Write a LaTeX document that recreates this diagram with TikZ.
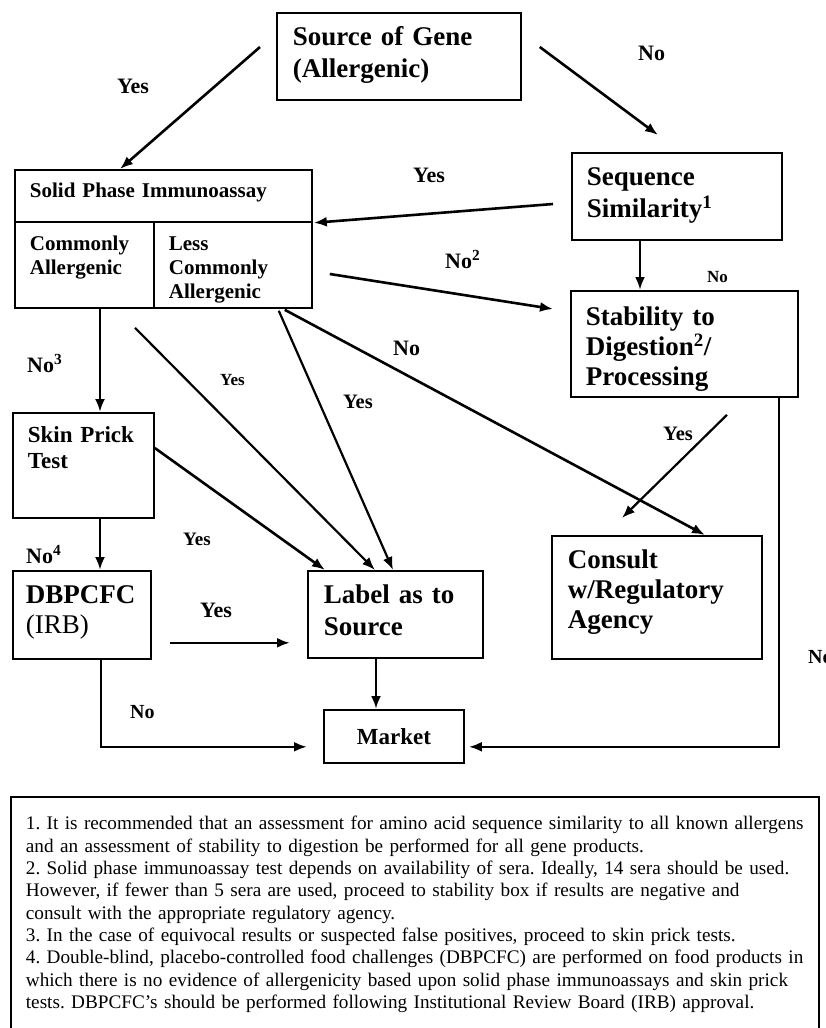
\documentclass[tikz,border=0pt]{standalone}
\usepackage{fontspec}
\setmainfont{Liberation Serif}
\usetikzlibrary{arrows.meta}

\newcommand{\fs}[2]{\fontsize{#1}{#2}\selectfont}

\begin{document}
\begin{tikzpicture}[x=1pt,y=-1pt,>={Latex[length=13pt,width=10pt]}]
\tikzset{box/.style={draw,line width=1.8pt,anchor=north west,align=left,inner ysep=0pt},
arr/.style={->,line width=2.6pt},
lbl/.style={anchor=base west,inner sep=0pt,font=\fs{22}{26}\bfseries}}
\useasboundingbox (0,0) rectangle (826,1028);
% boxes
\node[box,font=\fs{27}{32}\bfseries,inner xsep=16pt,text width=212pt,text height=33pt,text depth=54pt] (src) at (276,12) {Source of Gene\\(Allergenic)};
\node[box,font=\fs{21}{24}\bfseries,inner xsep=15pt,text width=267pt,text height=28pt,text depth=24pt] (spi) at (14,169) {Solid Phase Immunoassay};
\node[box,font=\fs{21}{24}\bfseries,inner xsep=15pt,text width=109pt,text height=29pt,text depth=57pt] (com) at (14,221) {Commonly\\Allergenic};
\node[box,font=\fs{21}{24}\bfseries,inner xsep=15pt,text width=128pt,text height=29pt,text depth=57pt] (less) at (153,221) {Less\\Commonly\\Allergenic};
\node[box,font=\fs{27}{32}\bfseries,inner xsep=15pt,text width=180pt,text height=33pt,text depth=54pt] (seq) at (571,152) {Sequence\\Similarity\textsuperscript{1}};
\node[box,font=\fs{27}{30}\bfseries,inner xsep=15pt,text width=197pt,text height=35pt,text depth=71pt] (stab) at (570,290) {Stability to\\Digestion\textsuperscript{2}/\\Processing};
\node[box,font=\fs{23}{26}\bfseries,inner xsep=15pt,text width=111pt,text height=30pt,text depth=75pt] (skin) at (12,412) {Skin Prick\\Test};
\node[box,font=\fs{27}{30},inner xsep=13pt,text width=112pt,text height=33pt,text depth=55pt] (dbp) at (12,570) {\textbf{DBPCFC}\\(IRB)};
\node[box,font=\fs{27}{32}\bfseries,inner xsep=16pt,text width=143pt,text height=33pt,text depth=54pt] (lab) at (307,570) {Label as to\\Source};
\node[box,font=\fs{27}{30}\bfseries,inner xsep=16pt,text width=178pt,text height=33pt,text depth=90pt] (con) at (551,535) {Consult\\w/Regulatory\\Agency};
\node[box,font=\fs{23}{26}\bfseries,inner sep=0pt,minimum width=140pt,minimum height=53pt,align=center] (mkt) at (323,709) {Market};
% notes
\node[box,font=\fs{19.2}{22.3}\frenchspacing,inner xsep=15pt,text width=778pt,text height=33pt,text depth=211pt] (notes) at (10,796) {\mbox{1. It is recommended that an assessment for amino acid sequence similarity to all known allergens}\\
\mbox{and an assessment of stability to digestion be performed for all gene products.}\\
\mbox{2. Solid phase immunoassay test depends on availability of sera. Ideally, 14 sera should be used.}\\
\mbox{However, if fewer than 5 sera are used, proceed to stability box if results are negative and}\\
\mbox{consult with the appropriate regulatory agency.}\\
\mbox{3. In the case of equivocal results or suspected false positives, proceed to skin prick tests.}\\
\mbox{4. Double-blind, placebo-controlled food challenges (DBPCFC) are performed on food products in}\\
\mbox{which there is no evidence of allergenicity based upon solid phase immunoassays and skin prick}\\
\mbox{tests. DBPCFC’s should be performed following Institutional Review Board (IRB) approval.}};
% labels
\node[lbl] (y1) at (117,93) {Yes};
\node[lbl] (n1) at (638,60) {No};
\node[lbl] (y2) at (413,182) {Yes};
\node[lbl,font=\fs{17}{20}\bfseries] (n2) at (707,282) {No};
\node[lbl] (n3) at (445,268) {No\textsuperscript{2}};
\node[lbl] (n4) at (27,372) {No\textsuperscript{3}};
\node[lbl] (n5) at (26,563) {No\textsuperscript{4}};
\node[lbl,font=\fs{17}{20}\bfseries] (y3) at (220,385) {Yes};
\node[lbl,font=\fs{20.5}{24}\bfseries] (y4) at (343,408) {Yes};
\node[lbl] (n6) at (393,355) {No};
\node[lbl,font=\fs{19}{22}\bfseries] (y5) at (183,545) {Yes};
\node[lbl] (y6) at (200,617) {Yes};
\node[lbl,font=\fs{20.5}{24}\bfseries] (y7) at (663,440) {Yes};
\node[lbl,font=\fs{20}{24}\bfseries] (n7) at (130,718) {No};
\node[lbl,font=\fs{20}{24}\bfseries] (n8) at (808,663) {No};
% connectors
\draw[arr] ([shift={(-16,35)}]src.north west) -- ([shift={(106,0)}]spi.north west);
\draw[arr] ([shift={(18,35)}]src.north east) -- ([shift={(87,-17)}]seq.north west);
\draw[arr] ([shift={(-18,52)}]seq.north west) -- ([shift={(1,0)}]spi.south east);
\draw[arr] ([shift={(69,0)}]seq.south west) -- ([shift={(70,0)}]stab.north west);
\draw[arr] ([shift={(17,53)}]less.north east) -- ([shift={(-17,19)}]stab.north west);
\draw[arr] ([shift={(86,0)}]com.south west) -- ([shift={(88,0)}]skin.north west);
\draw[arr] ([shift={(88,0)}]skin.south west) -- ([shift={(88,0)}]dbp.north west);
\draw[arr] ([shift={(18,-17)}]dbp.south east) -- ([shift={(-17,-16)}]lab.south west);
\draw[arr] ([shift={(0,36)}]skin.north east) -- ([shift={(18,0)}]lab.north west);
\draw[arr,line width=2.2pt] ([shift={(121,19)}]com.south west) -- ([shift={(68,0)}]lab.north west);
\draw[arr,line width=2.2pt] ([shift={(-34,2)}]less.south east) -- ([shift={(86,0)}]lab.north west);
\draw[arr] ([shift={(-28,1)}]less.south east) -- ([shift={(154,0)}]con.north west);
\draw[arr,line width=2.2pt] ([shift={(157,17)}]stab.south west) -- ([shift={(71,-17)}]con.north west);
\draw[arr] ([shift={(69,0)}]lab.south west) -- ([shift={(53,0)}]mkt.north west);
\draw[arr] ([shift={(89,0)}]dbp.south west) |- ([shift={(-16,-17)}]mkt.south west);
\draw[arr] ([shift={(-20,0)}]stab.south east) |- ([shift={(4,-17)}]mkt.south east);
\end{tikzpicture}
\end{document}
